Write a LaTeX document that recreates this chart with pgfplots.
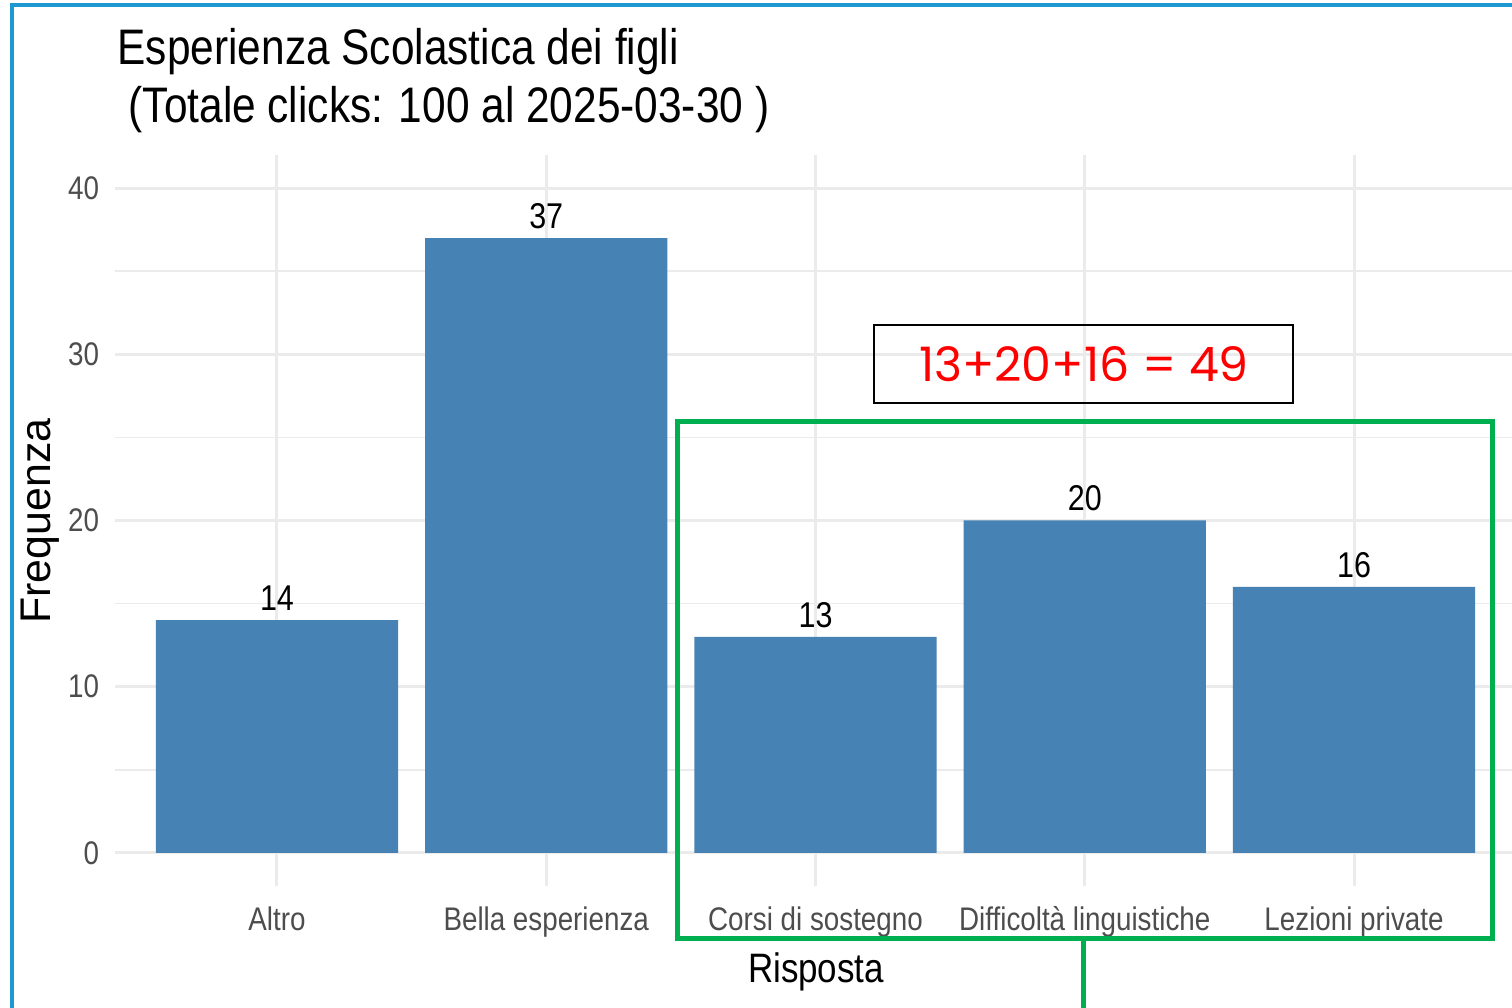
\documentclass[border=0pt]{standalone}
\usepackage{fontspec}
\setmainfont{Liberation Sans}[FakeStretch=0.85]
\newfontfamily\plainfont{Liberation Sans}
\newfontfamily\gothic{Poppins}
\usepackage{pgfplots}
\pgfplotsset{compat=1.18}
\definecolor{steel}{HTML}{4682B4}
\definecolor{gridc}{HTML}{EBEBEB}
\definecolor{tickgrey}{HTML}{4D4D4D}
\definecolor{exgreen}{HTML}{00B050}
\definecolor{frameblue}{HTML}{1E98D0}
\begin{document}
\begin{tikzpicture}
\clip (0,0) rectangle (151.2mm,100.7mm);
\fill[white] (0,0) rectangle (151.2mm,100.7mm);
\begin{axis}[
  at={(11.54mm,12.1mm)}, anchor=south west,
  width=140.02mm, height=73.1mm, scale only axis,
  xmin=0.4, xmax=5.6, ymin=-2, ymax=42,
  /pgf/number format/assume math mode=true,
  axis line style={draw=none},
  major tick length=0pt, minor tick length=0pt,
  ytick={0,10,20,30,40}, minor ytick={5,15,25,35},
  xtick={1,2,3,4,5},
  xticklabels={Altro,Bella esperienza,Corsi di sostegno,Difficoltà linguistiche,Lezioni private},
  xmajorgrids, ymajorgrids, yminorgrids,
  major grid style={draw=gridc, line width=0.3mm},
  minor grid style={draw=gridc, line width=0.18mm},
  ticklabel style={font=\fontsize{9.3}{10}\selectfont, text=tickgrey},
  yticklabel style={xshift=-0.4mm},
  xticklabel style={yshift=-0.8mm},
  ybar, bar width=0.9,
  nodes near coords,
  nodes near coords style={font=\fontsize{10.2}{11}\selectfont, text=black, yshift=-0.3mm, /pgf/number format/assume math mode=true},
]
\addplot[fill=steel, draw=none] coordinates {(1,14) (2,37) (3,13) (4,20) (5,16)};
\end{axis}
\begin{scope}[x=0.1mm, y=-0.1mm, yshift=100.7mm]
  \node[anchor=base west, inner sep=0, font=\fontsize{14.2}{16}\selectfont] at (117,65) {Esperienza Scolastica dei figli};
  \node[anchor=base west, inner sep=0, font=\fontsize{14.2}{16}\selectfont] at (128,123) {(Totale clicks: 100 al 2025-03-30 )};
  \node[anchor=base, inner sep=0, font=\fontsize{11.7}{13}\selectfont] at (816,982) {Risposta};
  \node[anchor=base, inner sep=0, rotate=90, font=\plainfont\fontsize{12.2}{13}\selectfont] at (50,521) {Frequenza};
  \draw[black, line width=0.22mm] (874,325) rectangle (1293,403);
  \node[inner sep=0, text=red, font=\gothic\fontsize{13.5}{15}\selectfont] at (1084,364) {13+20+16 = 49};
  \draw[exgreen, line width=0.5mm] (677,422) rectangle (1492,938);
  \draw[exgreen, line width=0.5mm] (1083,938) -- (1083,1015);
  \draw[frameblue, line width=0.4mm] (12,1015) -- (12,5) -- (1520,5);
\end{scope}
\end{tikzpicture}
\end{document}
